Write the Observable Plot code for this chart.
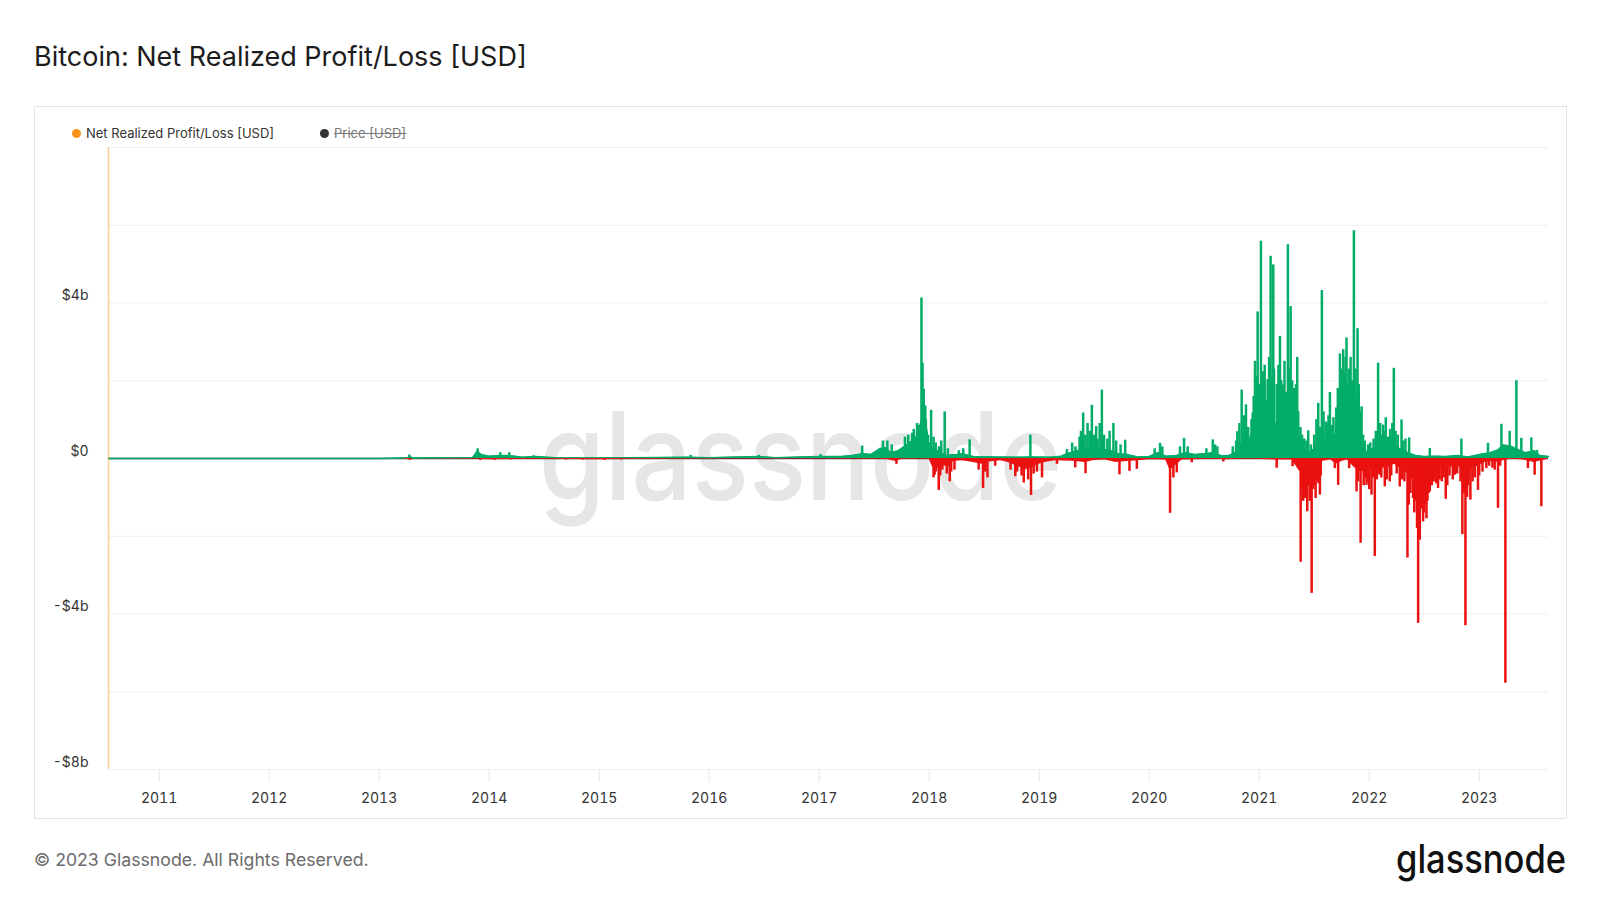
<!DOCTYPE html>
<html>
<head>
<meta charset="utf-8">
<script src="https://cdn.jsdelivr.net/npm/d3@7"></script>
<script src="https://cdn.jsdelivr.net/npm/@observablehq/plot@0.6"></script>
<style>
  html, body { margin: 0; padding: 0; background: #fff; }
  #page { position: relative; width: 1600px; height: 900px; overflow: hidden; font-family: Inter, "Noto Sans", sans-serif; }
  #title { position: absolute; left: 34px; top: 40px; font-size: 27px; line-height: 34px; color: #1c1c1c; white-space: nowrap; }
  #frame { position: absolute; left: 34px; top: 106px; width: 1533px; height: 713px; box-sizing: border-box; border: 1px solid #e4e4e4; }
  #wm { position: absolute; left: 0; top: 0; }
  #chart { position: absolute; left: 1px; top: 1px; }
  .legend { position: absolute; top: 18px; display: flex; align-items: center; font-size: 13px; color: #333; white-space: nowrap; }
  .legend .dot { width: 9px; height: 9px; border-radius: 50%; margin-right: 5px; }
  #footer { position: absolute; left: 34px; top: 848px; font-size: 17.7px; line-height: 24px; color: #6b6b6b; white-space: nowrap; }
  #logo { position: absolute; right: 0; top: 0; }
</style>
</head>
<body>
<div id="page">
  <div id="title">Bitcoin: Net Realized Profit/Loss [USD]</div>
  <div id="frame">
    <svg id="wm" width="1531" height="711"></svg>
    <div id="chart"></div>
    <div class="legend" style="left:37px;"><span class="dot" style="background:#f7931a"></span><span>Net Realized Profit/Loss [USD]</span></div>
    <div class="legend" style="left:285px;color:#777;"><span class="dot" style="background:#333"></span><span style="text-decoration:line-through;">Price [USD]</span></div>
  </div>
  <div id="footer">© 2023 Glassnode. All Rights Reserved.</div>
  <svg id="logo" width="1600" height="900"></svg>
</div>
<script>
// ---- Data (values in billions USD, dates as decimal years) ----
const yearTicks = [2011, 2012, 2013, 2014, 2015, 2016, 2017, 2018, 2019, 2020, 2021, 2022, 2023];
const yLabelTicks = [-8, -4, 0, 4];
const yGridTicks = [-8, -6, -4, -2, 0, 2, 4, 6, 8];
const xDomain = [2010.54, 2023.63];
const yDomain = [-8, 8];

// typical daily profit level (envelope of the dense green fill)
const profitBase = [
  [2010.54, 0], [2013.0, 0], [2013.25, 0.01], [2013.28, 0.05], [2013.31, 0.01], [2013.85, 0.02], [2013.89, 0.18],
  [2013.93, 0.1], [2014.0, 0.06], [2014.1, 0.08], [2014.18, 0.08], [2014.3, 0.03], [2014.42, 0.05], [2014.6, 0.02],
  [2015.0, 0.01], [2015.8, 0.03], [2016.0, 0.02], [2016.45, 0.05], [2016.6, 0.02], [2017.0, 0.05], [2017.2, 0.05],
  [2017.3, 0.08], [2017.4, 0.12], [2017.47, 0.1], [2017.55, 0.25], [2017.6, 0.28], [2017.65, 0.15], [2017.72, 0.2],
  [2017.77, 0.3], [2017.82, 0.4], [2017.87, 0.5], [2017.9, 0.65], [2017.93, 1.0], [2017.95, 1.2], [2017.98, 0.7],
  [2018.0, 0.25], [2018.03, 0.25], [2018.07, 0.2], [2018.1, 0.15], [2018.15, 0.08], [2018.25, 0.1], [2018.3, 0.12],
  [2018.4, 0.05], [2018.6, 0.04], [2018.8, 0.03], [2018.95, 0.04], [2019.1, 0.03], [2019.2, 0.06], [2019.25, 0.12],
  [2019.35, 0.2], [2019.45, 0.28], [2019.55, 0.25], [2019.65, 0.2], [2019.72, 0.12], [2019.8, 0.1], [2019.9, 0.04],
  [2020.0, 0.05], [2020.08, 0.15], [2020.15, 0.06], [2020.25, 0.08], [2020.33, 0.15], [2020.42, 0.1], [2020.5, 0.12],
  [2020.58, 0.15], [2020.65, 0.08], [2020.72, 0.07], [2020.78, 0.15], [2020.82, 0.35], [2020.86, 0.45], [2020.9, 0.4],
  [2020.95, 0.8], [2020.99, 1.0], [2021.03, 1.2], [2021.07, 0.9], [2021.1, 1.2], [2021.14, 0.8], [2021.18, 1.1],
  [2021.22, 0.9], [2021.26, 1.1], [2021.3, 0.8], [2021.34, 0.7], [2021.37, 0.45], [2021.4, 0.25], [2021.45, 0.15],
  [2021.5, 0.25], [2021.55, 0.45], [2021.6, 0.5], [2021.65, 0.45], [2021.7, 0.65], [2021.74, 1.0], [2021.78, 1.2],
  [2021.82, 1.0], [2021.86, 1.1], [2021.9, 0.7], [2021.94, 0.3], [2021.98, 0.15], [2022.03, 0.25], [2022.08, 0.35],
  [2022.12, 0.3], [2022.17, 0.25], [2022.22, 0.35], [2022.28, 0.25], [2022.35, 0.15], [2022.42, 0.08], [2022.5, 0.05],
  [2022.6, 0.06], [2022.7, 0.05], [2022.8, 0.08], [2022.9, 0.04], [2023.0, 0.1], [2023.1, 0.15], [2023.17, 0.22],
  [2023.22, 0.35], [2023.3, 0.3], [2023.36, 0.22], [2023.42, 0.15], [2023.5, 0.2], [2023.55, 0.08], [2023.63, 0.05]
];

// individual profit spikes
const profitSpikes = [
  [2013.275, 0.09], [2013.896, 0.25], [2014.101, 0.15], [2014.183, 0.15], [2014.404, 0.07], [2015.832, 0.08],
  [2016.453, 0.08], [2017.013, 0.1], [2017.391, 0.32], [2017.58, 0.45], [2017.62, 0.45], [2017.66, 0.35],
  [2017.78, 0.55], [2017.81, 0.6], [2017.845, 0.65], [2017.86, 0.75], [2017.89, 0.9], [2017.905, 0.85],
  [2017.93, 4.13], [2017.94, 2.45], [2017.951, 1.78], [2017.965, 1.35], [2017.97, 1.0], [2017.99, 0.6],
  [2018.0, 0.4], [2018.018, 1.24], [2018.04, 0.55], [2018.06, 0.4], [2018.09, 0.3], [2018.11, 0.45],
  [2018.141, 1.2], [2018.17, 0.25], [2018.27, 0.2], [2018.31, 0.25], [2018.368, 0.48], [2018.92, 0.6],
  [2019.252, 0.23], [2019.3, 0.4], [2019.33, 0.3], [2019.367, 0.55], [2019.38, 0.7], [2019.40, 1.17],
  [2019.42, 0.6], [2019.44, 0.9], [2019.46, 0.7], [2019.479, 1.37], [2019.5, 0.6], [2019.518, 0.82],
  [2019.53, 0.5], [2019.55, 0.9], [2019.57, 1.76], [2019.59, 0.6], [2019.62, 0.5], [2019.64, 0.7],
  [2019.675, 0.9], [2019.7, 0.45], [2019.74, 0.35], [2019.782, 0.47], [2020.05, 0.25], [2020.099, 0.39],
  [2020.12, 0.3], [2020.28, 0.3], [2020.317, 0.52], [2020.35, 0.3], [2020.52, 0.25], [2020.578, 0.48],
  [2020.6, 0.35], [2020.62, 0.3], [2020.76, 0.3], [2020.79, 0.45], [2020.801, 0.69], [2020.82, 0.9],
  [2020.841, 1.76], [2020.86, 1.1], [2020.88, 1.38], [2020.9, 0.8], [2020.93, 1.0], [2020.941, 1.17],
  [2020.95, 1.6], [2020.962, 2.5], [2020.975, 2.1], [2020.986, 3.77], [2021.0, 1.9], [2021.016, 5.59],
  [2021.025, 1.6], [2021.037, 2.23], [2021.05, 2.4], [2021.06, 1.5], [2021.077, 2.03], [2021.09, 2.6],
  [2021.104, 5.2], [2021.115, 2.1], [2021.128, 4.98], [2021.135, 2.3], [2021.16, 1.9], [2021.175, 2.4],
  [2021.189, 3.14], [2021.2, 2.0], [2021.219, 1.89], [2021.23, 2.5], [2021.245, 1.7], [2021.261, 5.5],
  [2021.27, 2.3], [2021.286, 3.91], [2021.3, 2.0], [2021.316, 1.8], [2021.325, 1.5], [2021.335, 1.9],
  [2021.346, 2.6], [2021.355, 1.2], [2021.375, 0.8], [2021.39, 0.6], [2021.41, 0.5], [2021.43, 0.45],
  [2021.446, 0.71], [2021.47, 0.35], [2021.5, 0.6], [2021.52, 1.0], [2021.537, 1.42], [2021.555, 0.8],
  [2021.57, 4.32], [2021.585, 1.2], [2021.606, 0.94], [2021.62, 0.9], [2021.63, 1.1], [2021.643, 1.7],
  [2021.66, 0.85], [2021.675, 1.05], [2021.7, 1.3], [2021.715, 1.8], [2021.734, 2.69], [2021.745, 2.3],
  [2021.755, 1.7], [2021.764, 2.8], [2021.775, 2.2], [2021.785, 2.6], [2021.794, 3.1], [2021.805, 1.9],
  [2021.815, 2.3], [2021.831, 2.6], [2021.845, 2.0], [2021.861, 5.86], [2021.875, 2.3], [2021.88, 1.6],
  [2021.894, 3.34], [2021.905, 1.9], [2021.92, 1.2], [2021.931, 1.33], [2021.945, 0.6], [2021.96, 0.45],
  [2021.99, 0.35], [2022.01, 0.4], [2022.04, 0.5], [2022.06, 0.7], [2022.081, 2.45], [2022.1, 0.9],
  [2022.11, 0.6], [2022.127, 0.86], [2022.14, 0.7], [2022.151, 1.05], [2022.17, 0.55], [2022.19, 0.75],
  [2022.21, 0.9], [2022.224, 2.32], [2022.24, 0.7], [2022.26, 0.6], [2022.294, 0.99], [2022.31, 0.45],
  [2022.33, 0.5], [2022.363, 0.53], [2022.551, 0.26], [2022.838, 0.5], [2023.08, 0.39], [2023.202, 0.88],
  [2023.277, 0.7], [2023.338, 2.0], [2023.383, 0.52], [2023.474, 0.53], [2023.525, 0.21]
];

// typical daily loss level (envelope of the dense red fill)
const lossBase = [
  [2010.54, 0], [2013.2, 0], [2013.28, -0.03], [2013.3, 0], [2013.9, -0.02], [2014.0, -0.03], [2014.5, -0.02],
  [2015.0, -0.03], [2015.3, -0.02], [2016.0, -0.01], [2017.0, -0.01], [2017.6, -0.02], [2017.7, -0.08], [2017.75, -0.02],
  [2018.0, -0.02], [2018.03, -0.22], [2018.08, -0.25], [2018.12, -0.18], [2018.18, -0.22], [2018.22, -0.08], [2018.3, -0.06],
  [2018.4, -0.1], [2018.48, -0.15], [2018.55, -0.09], [2018.65, -0.06], [2018.72, -0.1], [2018.8, -0.2], [2018.88, -0.28],
  [2018.95, -0.22], [2019.0, -0.15], [2019.05, -0.1], [2019.15, -0.06], [2019.3, -0.07], [2019.42, -0.1], [2019.5, -0.05],
  [2019.6, -0.04], [2019.7, -0.1], [2019.8, -0.08], [2019.9, -0.06], [2020.0, -0.03], [2020.15, -0.04], [2020.19, -0.3],
  [2020.24, -0.18], [2020.3, -0.04], [2020.4, -0.03], [2020.6, -0.02], [2020.7, -0.03], [2020.8, -0.02], [2021.0, -0.02],
  [2021.15, -0.04], [2021.3, -0.04], [2021.36, -0.3], [2021.42, -0.45], [2021.48, -0.38], [2021.53, -0.3], [2021.57, -0.08],
  [2021.65, -0.04], [2021.7, -0.15], [2021.75, -0.08], [2021.8, -0.04], [2021.86, -0.22], [2021.92, -0.35], [2021.98, -0.3],
  [2022.03, -0.3], [2022.08, -0.22], [2022.13, -0.25], [2022.18, -0.22], [2022.23, -0.15], [2022.28, -0.25], [2022.33, -0.35],
  [2022.38, -0.5], [2022.42, -0.6], [2022.46, -0.65], [2022.5, -0.6], [2022.55, -0.38], [2022.6, -0.3], [2022.65, -0.22],
  [2022.7, -0.25], [2022.75, -0.22], [2022.8, -0.15], [2022.85, -0.35], [2022.9, -0.35], [2022.95, -0.25], [2023.0, -0.18],
  [2023.05, -0.1], [2023.1, -0.07], [2023.15, -0.1], [2023.2, -0.07], [2023.25, -0.04], [2023.3, -0.02], [2023.4, -0.04],
  [2023.45, -0.07], [2023.5, -0.1], [2023.55, -0.07], [2023.6, -0.04], [2023.63, -0.02]
];

// individual loss spikes
const lossSpikes = [
  [2013.28, -0.05], [2013.92, -0.05], [2014.05, -0.05], [2014.2, -0.04], [2014.7, -0.04], [2014.85, -0.04],
  [2015.05, -0.05], [2015.2, -0.04], [2017.703, -0.15], [2018.04, -0.5], [2018.05, -0.43], [2018.06, -0.35],
  [2018.087, -0.82], [2018.1, -0.45], [2018.12, -0.3], [2018.16, -0.4], [2018.187, -0.6], [2018.2, -0.35],
  [2018.23, -0.3], [2018.45, -0.3], [2018.49, -0.77], [2018.51, -0.35], [2018.53, -0.5], [2018.6, -0.2],
  [2018.74, -0.3], [2018.783, -0.47], [2018.8, -0.35], [2018.84, -0.45], [2018.86, -0.63], [2018.9, -0.55],
  [2018.926, -0.95], [2018.95, -0.4], [2018.98, -0.35], [2019.026, -0.5], [2019.162, -0.15], [2019.328, -0.24],
  [2019.422, -0.39], [2019.73, -0.42], [2019.821, -0.33], [2019.888, -0.28], [2020.19, -1.41], [2020.22, -0.5],
  [2020.251, -0.37], [2020.387, -0.11], [2020.674, -0.09], [2021.159, -0.25], [2021.304, -0.21], [2021.377, -2.67],
  [2021.39, -0.8], [2021.40, -1.1], [2021.416, -1.03], [2021.425, -0.9], [2021.437, -1.37], [2021.45, -0.7],
  [2021.46, -1.1], [2021.477, -3.47], [2021.49, -0.8], [2021.50, -0.7], [2021.513, -1.03], [2021.525, -0.6],
  [2021.54, -0.65], [2021.552, -0.94], [2021.56, -0.45], [2021.688, -0.26], [2021.718, -0.69], [2021.818, -0.26],
  [2021.885, -0.86], [2021.9, -0.6], [2021.922, -2.18], [2021.95, -0.7], [2021.96, -0.5], [2021.976, -0.69],
  [2021.99, -0.6], [2022.0, -0.8], [2022.021, -0.94], [2022.035, -0.5], [2022.051, -2.52], [2022.07, -0.55],
  [2022.08, -0.4], [2022.097, -0.43], [2022.11, -0.5], [2022.142, -0.73], [2022.16, -0.55], [2022.187, -0.6],
  [2022.2, -0.45], [2022.25, -0.4], [2022.278, -0.73], [2022.3, -0.55], [2022.32, -0.6], [2022.348, -2.56],
  [2022.36, -1.2], [2022.375, -0.9], [2022.399, -1.03], [2022.41, -1.4], [2022.425, -1.1], [2022.435, -1.8],
  [2022.445, -4.24], [2022.46, -2.1], [2022.47, -1.3], [2022.48, -1.0], [2022.49, -1.63], [2022.5, -1.4],
  [2022.51, -1.2], [2022.521, -1.55], [2022.53, -1.1], [2022.54, -0.9], [2022.551, -0.86], [2022.57, -0.7],
  [2022.59, -0.6], [2022.61, -0.65], [2022.626, -0.77], [2022.64, -0.55], [2022.66, -0.6], [2022.68, -0.5],
  [2022.696, -1.05], [2022.71, -0.7], [2022.73, -0.45], [2022.76, -0.55], [2022.778, -0.43], [2022.8, -0.4],
  [2022.83, -0.6], [2022.847, -1.96], [2022.86, -0.9], [2022.875, -4.3], [2022.89, -1.0], [2022.9, -0.7],
  [2022.92, -1.07], [2022.94, -0.6], [2022.96, -0.5], [2022.989, -0.82], [2023.0, -0.45], [2023.03, -0.35],
  [2023.065, -0.26], [2023.09, -0.2], [2023.12, -0.25], [2023.141, -0.3], [2023.171, -1.28], [2023.19, -0.2],
  [2023.238, -5.78], [2023.443, -0.26], [2023.504, -0.43], [2023.565, -1.24]
];

// ---- Styles ----
const green = "#02ad69";
const red = "#ea1111";
const fmtY = v => v === 0 ? "$0" : (v < 0 ? "-$" : "$") + Math.abs(v) + "b";

const chart = Plot.plot({
  width: 1530,
  height: 710,
  marginLeft: 72,
  marginRight: 18,
  marginTop: 39,
  marginBottom: 49,
  x: {type: "linear", domain: xDomain},
  y: {domain: yDomain},
  style: {fontFamily: "Inter, 'Noto Sans', sans-serif", fontSize: "14px", color: "#333", background: "transparent", overflow: "visible"},
  marks: [
    Plot.gridY(yGridTicks, {stroke: "#f0f0f0", strokeOpacity: 1}),
    Plot.axisY(yLabelTicks, {tickSize: 0, tickPadding: 20, dy: -7, tickFormat: fmtY, fill: "#333", label: null}),
    Plot.axisX(yearTicks, {tickSize: 13, tickPadding: 11, tickFormat: d => String(d), stroke: "#e4e4e4", fill: "#333", label: null}),
    Plot.ruleY([0], {stroke: "#3a3a3a", strokeWidth: 1.5}),
    Plot.areaY(profitBase, {x: d => d[0], y: d => d[1], fill: green}),
    Plot.lineY(profitBase, {x: d => d[0], y: d => d[1], stroke: green, strokeWidth: 1.5}),
    Plot.ruleX(profitSpikes, {x: d => d[0], y1: 0, y2: d => d[1], stroke: green, strokeWidth: 2.5}),
    Plot.areaY(lossBase, {x: d => d[0], y: d => d[1], fill: red}),
    Plot.ruleX(lossSpikes, {x: d => d[0], y1: 0, y2: d => d[1], stroke: red, strokeWidth: 2.5}),
    Plot.ruleX([xDomain[0]], {stroke: "#f7931a", strokeOpacity: 0.45, strokeWidth: 1.5})
  ]
});
document.getElementById("chart").appendChild(chart);

// watermark (behind the chart)
const wm = d3.select("#wm");
wm.append("text")
  .attr("x", 504).attr("y", 393)
  .attr("font-family", "Inter, 'Noto Sans', sans-serif")
  .attr("font-size", 122).attr("font-weight", 500)
  .attr("fill", "#e6e6e6")
  .attr("textLength", 523).attr("lengthAdjust", "spacingAndGlyphs")
  .text("glassnode");

// footer logo
const logo = d3.select("#logo");
logo.append("text")
  .attr("x", 1566).attr("y", 873)
  .attr("text-anchor", "end")
  .attr("font-family", "Inter, 'Noto Sans', sans-serif")
  .attr("font-size", 39).attr("font-weight", 500)
  .attr("fill", "#111")
  .attr("textLength", 170).attr("lengthAdjust", "spacingAndGlyphs")
  .text("glassnode");
</script>
</body>
</html>
